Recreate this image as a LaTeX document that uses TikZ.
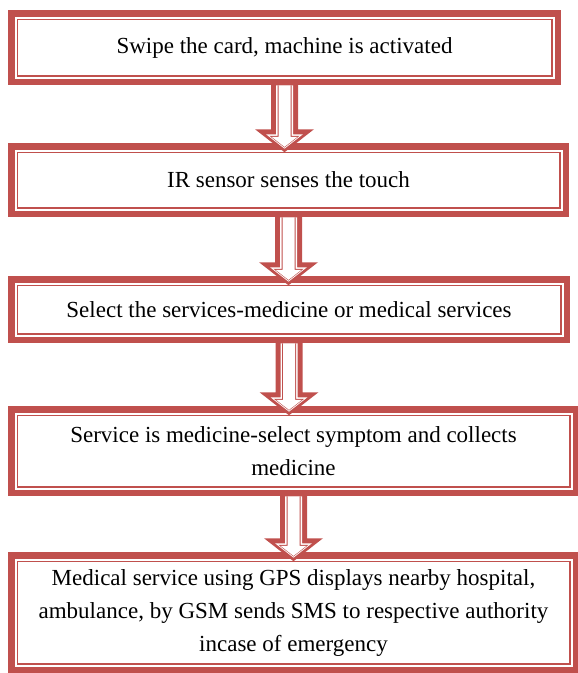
\documentclass[tikz,border=0pt]{standalone}
\usepackage{fontspec}
\setmainfont{Liberation Serif}
\usetikzlibrary{positioning, calc}

\definecolor{boxred}{RGB}{192,80,77}

\tikzset{
  stepbox/.style={draw=boxred, line width=6.5pt, fill=white, outer sep=0pt, inner sep=0pt, align=center, font=\fontsize{23}{33}\selectfont},
  thinrule/.style={draw=boxred, line width=1.5pt}
}

% hollow block arrow from the bottom of #1 down into the top of #2
\newcommand{\flowarrow}[2]{%
  \coordinate (top) at (#1.south);
  \coordinate (tip) at ($(#2.north -| #1.south)+(0,-6)$);
  \foreach \d/\c in {0/boxred, 5/white, 6.5/boxred, 7.5/white} {
    \pgfmathsetmacro{\topy}{\d>0 ? -3.5 : 2}
    \fill[\c] ($(top)+(-13.5+\d,\topy)$) -- ($(tip)+(-13.5+\d,23-\d)$) -- ($(tip)+(-29.5+2.2*\d,23-\d)$)
      -- ($(tip)+(0,0.72*\d)$) -- ($(tip)+(29.5-2.2*\d,23-\d)$) -- ($(tip)+(13.5-\d,23-\d)$)
      -- ($(top)+(13.5-\d,\topy)$) -- cycle;
  }
}

\begin{document}
\begin{tikzpicture}[x=1pt, y=1pt]

\useasboundingbox (0,0) rectangle (578,-673);

% Steps
\node[stepbox, minimum width=546.5pt, minimum height=68.5pt, anchor=north west] (swipe) at (11.25,-13.25) {Swipe the card, machine is activated};
\node[stepbox, minimum width=554.5pt, minimum height=67.5pt, below=64.5pt of swipe.south west, anchor=north west] (sensor) {IR sensor senses the touch};
\node[stepbox, minimum width=555.5pt, minimum height=60.5pt, below=65.5pt of sensor.south west, anchor=north west] (select) {Select the services-medicine or medical services};
\node[stepbox, minimum width=564.5pt, minimum height=83.5pt, below=69.5pt of select.south west, anchor=north west] (medicine) {Service is medicine-select symptom and collects\\medicine};
\node[stepbox, minimum width=564.5pt, minimum height=114.5pt, below=62.5pt of medicine.south west, anchor=north west] (hospital) {Medical service using GPS displays nearby hospital,\\ambulance, by GSM sends SMS to respective authority\\incase of emergency};

% inner rules
\foreach \b in {swipe, sensor, select, medicine, hospital}
  \draw[thinrule] ([shift={(6,-6)}]\b.north west) rectangle ([shift={(-6,6)}]\b.south east);

% Arrows
\flowarrow{swipe}{sensor}
\flowarrow{sensor}{select}
\flowarrow{select}{medicine}
\flowarrow{medicine}{hospital}

\end{tikzpicture}
\end{document}
